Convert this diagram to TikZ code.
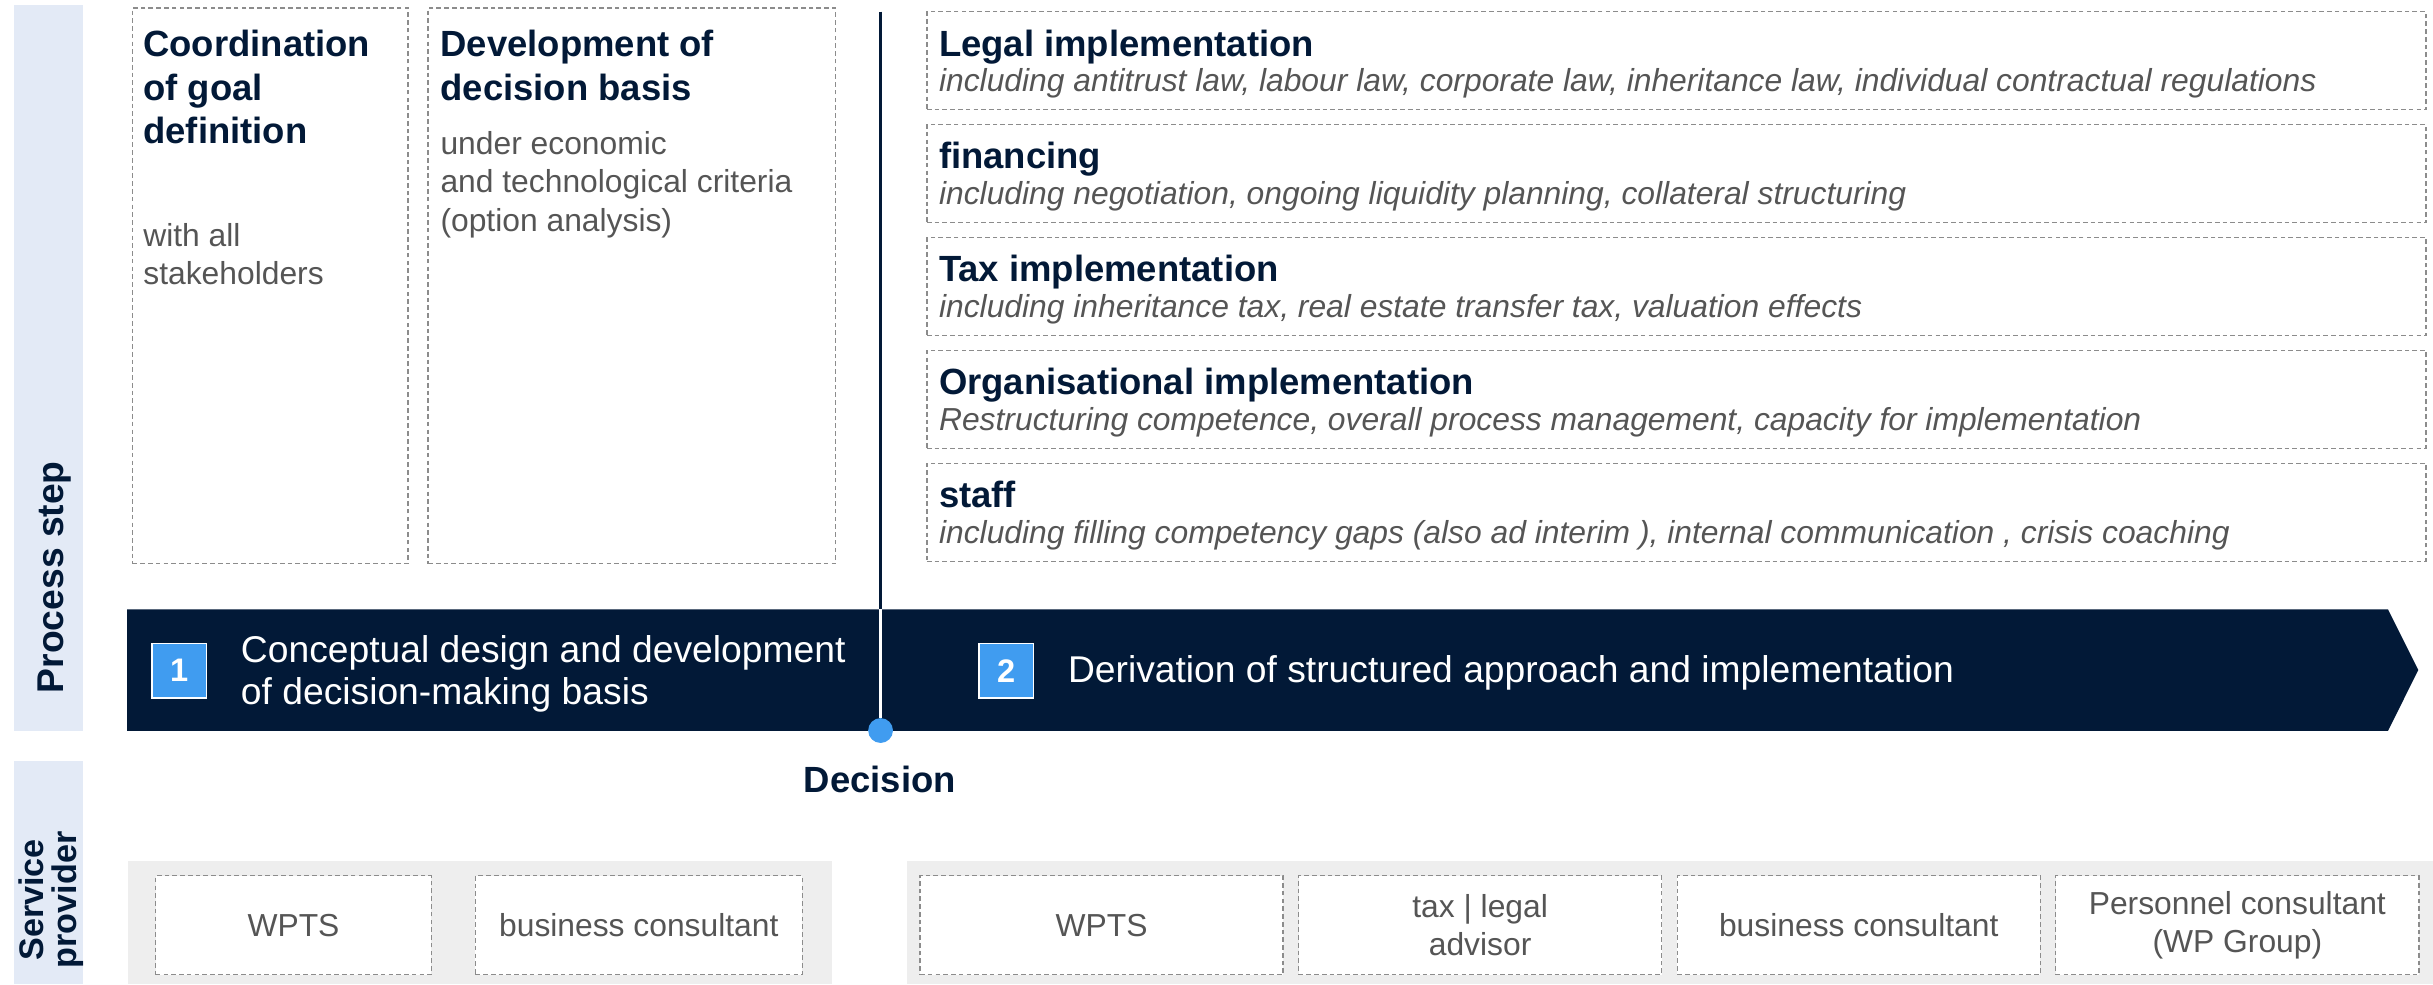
\documentclass[tikz,border=0pt]{standalone}
\usepackage{fontspec}
\setmainfont{Liberation Sans}
\usepackage{xcolor}
\usepackage{tikz}
\usetikzlibrary{positioning}
\definecolor{navy}{HTML}{021937}
\definecolor{hellblau}{HTML}{E3EAF6}
\definecolor{blau}{HTML}{409CF0}
\definecolor{grautext}{HTML}{555555}
\definecolor{strich}{HTML}{8C8C8C}
\definecolor{leiste}{HTML}{EEEEEE}
\tikzset{
  Kasten/.style={draw=strich, line width=0.8pt, dash pattern=on 3pt off 2pt,
    inner sep=0pt, anchor=north west}, % gestrichelte Kaesten
  Titel/.style={text=navy, inner sep=0pt,
    font=\fontsize{23.5}{28}\selectfont\bfseries}, % Ueberschriften
  Grau/.style={text=grautext, inner sep=0pt,
    font=\fontsize{20.5}{25}\selectfont}, % Erlaeuterungen
  Kursiv/.style={text=grautext, inner sep=0pt,
    font=\fontsize{20.5}{25}\selectfont\itshape},
  Anbieter/.style={Kasten, fill=white, text=grautext, align=center,
    minimum height=63.7pt, font=\fontsize{20.5}{25}\selectfont}, % Dienstleister
  Nummer/.style={fill=blau, draw=white, line width=0.8pt, minimum size=35pt,
    inner sep=0pt, text=white, font=\fontsize{21}{21}\selectfont\bfseries},
  Bandtext/.style={text=white, inner sep=0pt, align=left,
    font=\fontsize{24}{26.5}\selectfont},
  Seite/.style={text=navy, inner sep=0pt, rotate=90,
    font=\fontsize{24}{24}\selectfont\bfseries}, % seitliche Beschriftung
  Linie/.style={draw=navy, line width=2pt},
  Punkt/.style={circle, fill=blau, inner sep=0pt, minimum size=16pt}
}

\begin{document}
\begin{tikzpicture}[x=1pt,y=-1pt]
\useasboundingbox (0,0) rectangle (1568,634.2);

%Hintergruende
\fill[hellblau] (9,3.2) rectangle (53.5,471);
\fill[hellblau] (9,490.6) rectangle (53.5,634.2);
\fill[leiste] (82.2,555) rectangle (536.4,634.2);
\fill[leiste] (584.4,555) rectangle (1568,634.2);
\fill[navy] (82,392.7) -- (1539,392.7) -- (1558.5,431.8) -- (1539,471) -- (82,471) -- cycle;

%seitliche Beschriftung
\node[Seite, anchor=base] (prozess) at (41,372) {Process step};
\node[Seite, align=center, font=\fontsize{22}{21.5}\selectfont\bfseries] (dienst) at (33,580) {Service\\provider};

%Phase 1
\node[Kasten, minimum width=177.5pt, minimum height=358.3pt] (ziel) at (85,4.7) {};
\node[Titel, anchor=north west, align=left] (ziel-t) at (92.2,19.3) {Coordination\\of goal\\definition};
\node[Grau, anchor=north west, align=left] (ziel-g) at (92.2,143.5) {with all\\stakeholders};

\node[Kasten, minimum width=262.5pt, minimum height=358.3pt] (basis) at (275.5,4.7) {};
\node[Titel, anchor=north west, align=left] (basis-t) at (283.7,19.3) {Development of\\decision basis};
\node[Grau, anchor=north west, align=left] (basis-g) at (283.7,84.3) {under economic\\and technological criteria\\(option analysis)};

%Phase 2
\node[Kasten, minimum width=966pt, minimum height=63.3pt] (recht) at (597,7.1) {};
\node[Titel, anchor=base west] (recht-t) at ([xshift=8pt,yshift=-29pt]recht.north west) {Legal implementation};
\node[Kursiv, anchor=base west] (recht-k) at ([yshift=-23pt]recht-t.base west) {including antitrust law, labour law, corporate law, inheritance law, individual contractual regulations};

\node[Kasten, minimum width=966pt, minimum height=63.3pt] (finanz) at (597,79.85) {};
\node[Titel, anchor=base west] (finanz-t) at ([xshift=8pt,yshift=-29pt]finanz.north west) {financing};
\node[Kursiv, anchor=base west] (finanz-k) at ([yshift=-23pt]finanz-t.base west) {including negotiation, ongoing liquidity planning, collateral structuring};

\node[Kasten, minimum width=966pt, minimum height=63.3pt] (steuer) at (597,152.6) {};
\node[Titel, anchor=base west] (steuer-t) at ([xshift=8pt,yshift=-29pt]steuer.north west) {Tax implementation};
\node[Kursiv, anchor=base west] (steuer-k) at ([yshift=-23pt]steuer-t.base west) {including inheritance tax, real estate transfer tax, valuation effects};

\node[Kasten, minimum width=966pt, minimum height=63.3pt] (orga) at (597,225.35) {};
\node[Titel, anchor=base west] (orga-t) at ([xshift=8pt,yshift=-29pt]orga.north west) {Organisational implementation};
\node[Kursiv, anchor=base west] (orga-k) at ([yshift=-23pt]orga-t.base west) {Restructuring competence, overall process management, capacity for implementation};

\node[Kasten, minimum width=966pt, minimum height=63.3pt] (personal) at (597,298.1) {};
\node[Titel, anchor=base west] (personal-t) at ([xshift=8pt,yshift=-29pt]personal.north west) {staff};
\node[Kursiv, anchor=base west] (personal-k) at ([yshift=-23pt]personal-t.base west) {including filling competency gaps (also ad interim ), internal communication , crisis coaching};

%Prozessband
\node[Nummer] (nr1) at (115.5,432.3) {1};
\node[Bandtext, right=21.7pt of nr1, yshift=-2pt] (schritt1) {Conceptual design and development\\of decision-making basis};
\node[Nummer] (nr2) at (648.5,432.3) {2};
\node[Bandtext, right=21.7pt of nr2, yshift=-1.5pt] (schritt2) {Derivation of structured approach and implementation};

%Entscheidung
\coordinate (oben) at (567.5,7.5);
\coordinate (bandoben) at (567.5,392.7);
\draw[Linie] (oben) -- (bandoben);
\node[Punkt] (entsch) at (567.5,470.8) {};
\draw[Linie, draw=white, line width=1.6pt] (bandoben) -- (entsch.north);
\node[Titel, anchor=base] (entsch-t) at (567,511) {Decision};

%Dienstleister
\node[Anbieter, minimum width=177.5pt] (wpts1) at (100,564) {WPTS};
\node[Anbieter, minimum width=210.6pt] (berater1) at (306,564) {business consultant};
\node[Anbieter, minimum width=234pt] (wpts2) at (592.5,564) {WPTS};
\node[Anbieter, minimum width=234pt] (steuerber) at (836.5,564) {tax | legal\\advisor};
\node[Anbieter, minimum width=234pt] (berater2) at (1080.5,564) {business consultant};
\node[Anbieter, minimum width=234pt] (personalber) at (1324.5,564) {Personnel consultant\\(WP Group)};

\end{tikzpicture}
\end{document}
